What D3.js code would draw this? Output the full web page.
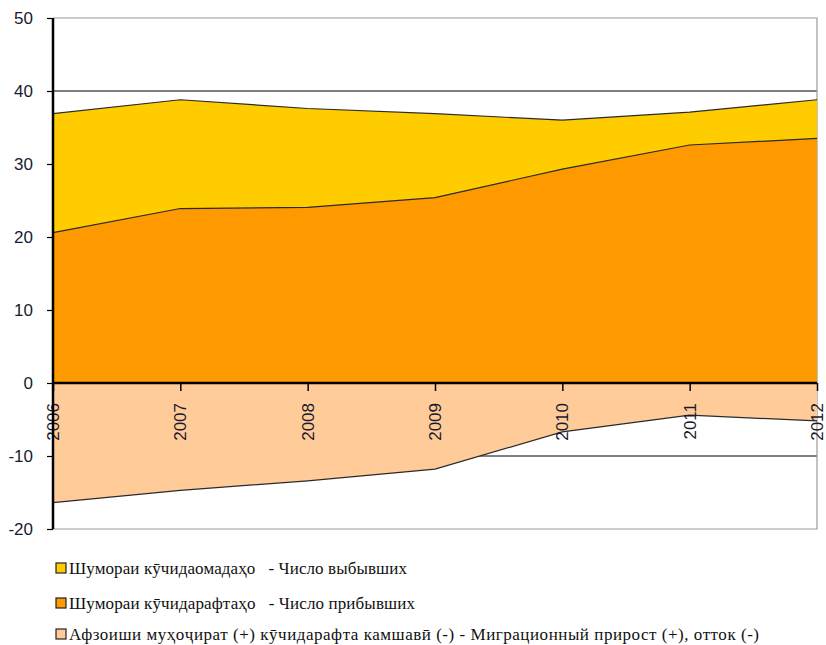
<!DOCTYPE html>
<html>
<head>
<meta charset="utf-8">
<script src="https://cdn.jsdelivr.net/npm/d3@7"></script>
<style>
  html, body { margin: 0; padding: 0; background: #fff; }
  svg { display: block; }
</style>
</head>
<body>
<svg id="chart" width="826" height="645"></svg>
<script>
const years = ["2006", "2007", "2008", "2009", "2010", "2011", "2012"];
const departures = [36.9, 38.8, 37.6, 36.9, 36.0, 37.1, 38.8];
const arrivals = [20.6, 23.9, 24.05, 25.4, 29.3, 32.6, 33.5];
const migration = [-16.4, -14.7, -13.4, -11.8, -6.7, -4.4, -5.2];
const yTicks = [-20, -10, 0, 10, 20, 30, 40, 50];
const legendLabels = [
  "Шумораи кӯчидаомадаҳо   - Число выбывших",
  "Шумораи кӯчидарафтаҳо   - Число прибывших",
  "Афзоиши муҳоҷират (+) кӯчидарафта камшавӣ (-) - Миграционный прирост (+), отток (-)"
];
const colors = ["#FFCC00", "#FF9900", "#FFCC99"];

const svg = d3.select("#chart");
const x = d3.scalePoint().domain(years).range([53, 817]);
const y = d3.scaleLinear().domain([-20, 50]).range([529, 18]);

// gridlines
svg.append("g").selectAll("line").data(yTicks.filter(d => d > -20 && d < 50)).join("line")
  .attr("x1", 53).attr("x2", 817)
  .attr("y1", d => y(d)).attr("y2", d => y(d))
  .attr("stroke", "#000").attr("stroke-width", 1);

// plot area border (top, right, bottom)
svg.append("path")
  .attr("d", `M53,${y(50)}H817V${y(-20)}H53`)
  .attr("fill", "none").attr("stroke", "#9a9a9a").attr("stroke-width", 1.2);

const series = [departures, arrivals, migration];
series.forEach((vals, i) => {
  const data = years.map((yr, j) => ({ yr, v: vals[j] }));
  const area = d3.area().x(d => x(d.yr)).y0(y(0)).y1(d => y(d.v));
  svg.append("path").datum(data)
    .attr("d", area).attr("fill", colors[i]);
  const line = d3.line().x(d => x(d.yr)).y(d => y(d.v));
  svg.append("path").datum(data)
    .attr("d", line).attr("fill", "none")
    .attr("stroke", "#2a2a2a").attr("stroke-width", 1.2);
});

// zero line with ticks
const xAxis = d3.axisBottom(x).tickSize(8).tickFormat("");
const gx = svg.append("g").attr("transform", `translate(0,${y(0)})`).call(xAxis);
gx.select(".domain").attr("stroke", "#000").attr("stroke-width", 2.5).attr("d", "M53,0H817");
gx.selectAll(".tick line").attr("stroke", "#000").attr("stroke-width", 1.5);

// x labels (rotated)
svg.append("g").selectAll("text").data(years).join("text")
  .attr("transform", d => `translate(${x(d)},403) rotate(-90)`)
  .attr("text-anchor", "end")
  .attr("dy", "0.35em")
  .attr("font-family", "Liberation Sans, Arial, sans-serif")
  .attr("font-size", 17)
  .attr("fill", "#1a1a2e")
  .text(d => d);

// y axis
const yAxis = d3.axisLeft(y).tickValues(yTicks).tickSize(6).tickPadding(14).tickFormat(d => String(d));
const gy = svg.append("g").attr("transform", "translate(53,0)").call(yAxis);
gy.select(".domain").attr("stroke", "#000").attr("stroke-width", 2.5).attr("d", `M0,${y(50)}V${y(-20)}`);
gy.selectAll(".tick line").attr("stroke", "#000").attr("stroke-width", 1.2);
gy.selectAll(".tick text")
  .attr("font-family", "Liberation Sans, Arial, sans-serif")
  .attr("font-size", 17)
  .attr("fill", "#1a1a2e");

// legend
const legendY = [568, 603, 634];
const legendLen = [338, 346, 690];
const lg = svg.append("g");
legendLabels.forEach((lbl, i) => {
  lg.append("rect")
    .attr("x", 56).attr("y", legendY[i] - 5)
    .attr("width", 10).attr("height", 10)
    .attr("fill", colors[i]).attr("stroke", "#222").attr("stroke-width", 1.2);
  lg.append("text")
    .attr("x", 69).attr("y", legendY[i])
    .attr("dy", "0.35em")
    .attr("font-family", "Liberation Serif, Times New Roman, serif")
    .attr("font-size", 17)
    .attr("fill", "#111")
    .attr("textLength", legendLen[i])
    .attr("lengthAdjust", "spacing")
    .style("white-space", "pre")
    .text(lbl);
});
</script>
</body>
</html>
